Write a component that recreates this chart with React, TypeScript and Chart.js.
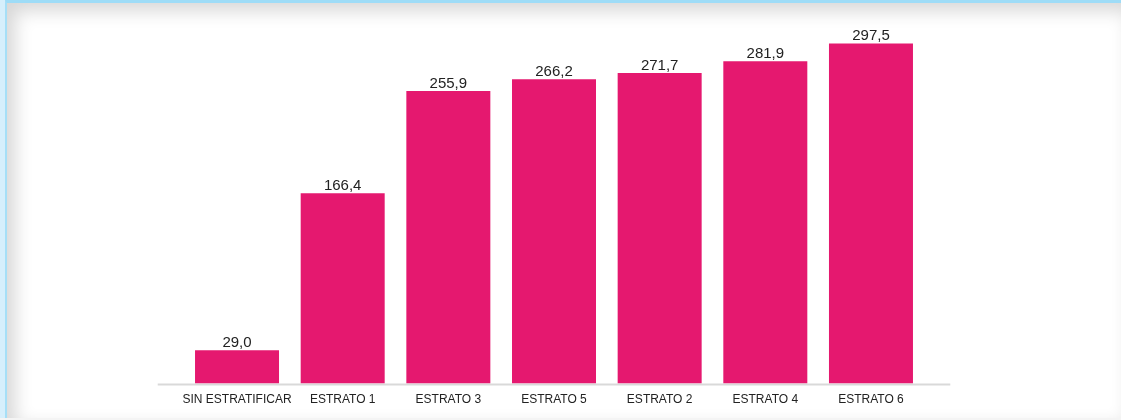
import React, { useEffect, useRef } from "react";
import { Chart, registerables } from "chart.js";

Chart.register(...registerables);

const categories = ["SIN ESTRATIFICAR", "ESTRATO 1", "ESTRATO 3", "ESTRATO 5", "ESTRATO 2", "ESTRATO 4", "ESTRATO 6"];
const values = [29.0, 166.4, 255.9, 266.2, 271.7, 281.9, 297.5];

const BAR_COLOR = "#e5186f";

const valueLabels = {
  id: "valueLabels",
  afterDatasetsDraw(chart: any) {
    const ctx = chart.ctx;
    const meta = chart.getDatasetMeta(0);
    ctx.save();
    ctx.font = "15px 'Liberation Sans', Arial, sans-serif";
    ctx.fillStyle = "#222222";
    ctx.textAlign = "center";
    ctx.textBaseline = "alphabetic";
    meta.data.forEach((bar: any, i: number) => {
      const v = values[i];
      ctx.fillText(v.toFixed(1).replace(".", ","), bar.x, bar.y - 3);
    });
    ctx.restore();
  },
};

const baseLine = {
  id: "baseLine",
  beforeDatasetsDraw(chart: any) {
    const { ctx, chartArea } = chart;
    ctx.save();
    ctx.strokeStyle = "#d9d9d9";
    ctx.lineWidth = 2;
    ctx.beginPath();
    ctx.moveTo(chartArea.left - 26.5, chartArea.bottom + 1);
    ctx.lineTo(chartArea.right + 26.5, chartArea.bottom + 1);
    ctx.stroke();
    ctx.restore();
  },
};

export default function App() {
  const ref = useRef<HTMLCanvasElement | null>(null);
  useEffect(() => {
    document.body.style.margin = "0";
    const chart = new Chart(ref.current as HTMLCanvasElement, {
      type: "bar",
      data: {
        labels: categories,
        datasets: [
          {
            data: values,
            backgroundColor: BAR_COLOR,
            borderWidth: 0,
            categoryPercentage: 1,
            barPercentage: 0.795,
          },
        ],
      },
      options: {
        responsive: false,
        animation: false,
        layout: { padding: { left: 184.2, right: 197.2, top: 40.6, bottom: 6.5 } },
        plugins: { legend: { display: false }, tooltip: { enabled: false } },
        scales: {
          x: {
            offset: true,
            grid: { display: false, drawTicks: false },
            border: { display: false },
            ticks: {
              color: "#222222",
              padding: 9,
              maxRotation: 0,
              autoSkip: false,
              font: { family: "'Liberation Sans', Arial, sans-serif", size: 12 },
            },
            afterFit: (scale: any) => {
              scale.height = 30;
            },
          },
          y: {
            display: false,
            min: 0,
            max: 300,
          },
        },
      },
      plugins: [valueLabels, baseLine],
    });
    return () => chart.destroy();
  }, []);

  return (
    <div style={{ position: "absolute", left: 0, top: 0, width: 1121, height: 420, background: "#d6effc", overflow: "hidden" }}>
      <div
        style={{
          position: "absolute",
          left: 5,
          top: 0,
          width: 1116,
          height: 418,
          borderTop: "3px solid #9edcf7",
          borderLeft: "2px solid #a6dff7",
          boxSizing: "border-box",
          background: "#ffffff",
          boxShadow: "inset 8px 8px 18px rgba(0,0,0,0.16)",
        }}
      />
      <div style={{ position: "absolute", left: 0, top: 418, width: 1121, height: 2, background: "#f4f4f4" }} />
      <canvas ref={ref} width={1121} height={420} style={{ position: "absolute", left: 0, top: 0 }} />
    </div>
  );
}
